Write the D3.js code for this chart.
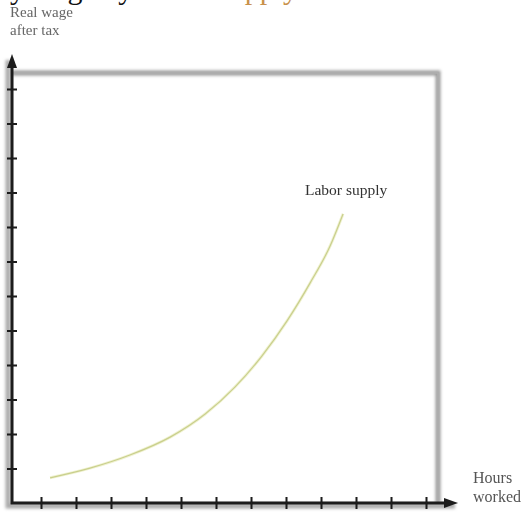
<!DOCTYPE html>
<html>
<head>
<meta charset="utf-8">
<script src="https://cdn.jsdelivr.net/npm/d3@7"></script>
<style>
  body { margin: 0; background: #fff; overflow: hidden; }
  svg { display: block; }
  text { font-family: "Liberation Serif", "DejaVu Serif", serif; }
</style>
</head>
<body>
<div id="container"></div>
<script>
// data
var hourTicks = [1,2,3,4,5,6,7,8,9,10,11,12]
var wageTicks = [1,2,3,4,5,6,7,8,9,10,11,12]
var supplyHours = [1.26, 2.40, 3.54, 4.69, 5.69, 6.54, 7.31, 8.03, 8.69, 9.26, 9.63]
var supplyWage  = [0.73, 1.01, 1.39, 1.91, 2.58, 3.36, 4.26, 5.28, 6.38, 7.45, 8.38]
var curveLabel = "Labor supply"
var yLabel = ["Real wage", "after tax"]
var xLabel = ["Hours", "worked"]
var caption = ["Hourly wage by", "Supply"]

var width = 524, height = 513

var svg = d3.select("#container").append("svg")
    .attr("width", width)
    .attr("height", height)

var defs = svg.append("defs")
defs.append("filter").attr("id", "blur").attr("x", "-50%").attr("y", "-50%").attr("width", "200%").attr("height", "200%")
  .append("feGaussianBlur").attr("stdDeviation", 1.6)
defs.append("filter").attr("id", "soft").attr("x", "-50%").attr("y", "-50%").attr("width", "200%").attr("height", "200%")
  .append("feGaussianBlur").attr("stdDeviation", 0.6)
defs.append("filter").attr("id", "txt").attr("x", "-10%").attr("y", "-10%").attr("width", "120%").attr("height", "120%")
  .append("feGaussianBlur").attr("stdDeviation", 0.35)

// scales
var x = d3.scaleLinear().domain([0, 12]).range([6, 426])
var y = d3.scaleLinear().domain([0, 12]).range([503, 89])

var x0 = 12, y0 = 503

// caption cut off at the top edge
svg.append("text").attr("x", -60).attr("y", -1)
  .style("font-size", "30px").attr("fill", "#111").text(caption[0])
svg.append("text").attr("x", 213).attr("y", -1)
  .style("font-size", "30px").attr("fill", "#c8914a").text(caption[1])

// grey frame (top and right) with shadow
var frame = svg.append("g")
frame.append("path")
  .attr("d", "M" + x0 + ",73 L438,73 L438," + y0)
  .attr("fill", "none").attr("stroke", "#9a9a9a").attr("stroke-width", 5)
  .attr("filter", "url(#blur)")
frame.append("path")
  .attr("d", "M" + x0 + ",73 L438,73 L438," + y0)
  .attr("fill", "none").attr("stroke", "#b0b0b0").attr("stroke-width", 1.5)

// axis shadow
svg.append("path")
  .attr("d", "M" + (x0 - 4) + ",60 L" + (x0 - 4) + "," + (y0 + 3) + " L455," + (y0 + 3))
  .attr("fill", "none").attr("stroke", "#aaa").attr("stroke-width", 5)
  .attr("filter", "url(#blur)")

// axes lines with arrows
var axes = svg.append("g").attr("filter", "url(#soft)")
axes.append("path")
  .attr("d", "M" + x0 + ",62 L" + x0 + "," + y0 + " L450," + y0)
  .attr("fill", "none").attr("stroke", "#1c1c1c").attr("stroke-width", 3)
axes.append("path")
  .attr("d", "M" + x0 + ",54 L" + (x0 - 5) + ",68 L" + (x0 + 5) + ",68 Z")
  .attr("fill", "#1c1c1c")
axes.append("path")
  .attr("d", "M458," + y0 + " L444," + (y0 - 5) + " L444," + (y0 + 5) + " Z")
  .attr("fill", "#1c1c1c")

// ticks
var yAxis = svg.append("g")
  .attr("transform", "translate(" + x0 + ",0)")
  .attr("filter", "url(#soft)")
  .call(d3.axisLeft(y).tickValues(wageTicks).tickSize(5).tickFormat(""))
yAxis.select(".domain").remove()
yAxis.selectAll(".tick line").attr("x1", 5).attr("x2", -5)
  .attr("stroke", "#1c1c1c").attr("stroke-width", 2)

var xAxis = svg.append("g")
  .attr("transform", "translate(0," + y0 + ")")
  .attr("filter", "url(#soft)")
  .call(d3.axisBottom(x).tickValues(hourTicks).tickSize(5).tickFormat(""))
xAxis.select(".domain").remove()
xAxis.selectAll(".tick line").attr("y1", -6).attr("y2", 6)
  .attr("stroke", "#1c1c1c").attr("stroke-width", 2)

// supply curve
var pts = supplyHours.map(function(h, i){ return [h, supplyWage[i]] })
var line = d3.line()
  .x(function(d){ return x(d[0]) })
  .y(function(d){ return y(d[1]) })
  .curve(d3.curveMonotoneX)

svg.append("path").datum(pts)
  .attr("d", line)
  .attr("fill", "none").attr("stroke", "#f0f2d2").attr("stroke-width", 3)
svg.append("path").datum(pts)
  .attr("d", line)
  .attr("fill", "none").attr("stroke", "#c9cf8c").attr("stroke-width", 1.2)

svg.append("text")
  .attr("x", 305).attr("y", 195)
  .attr("filter", "url(#txt)")
  .style("font-size", "15.5px").attr("fill", "#333")
  .text(curveLabel)

// axis titles
svg.selectAll(".ylab").data(yLabel).enter().append("text")
  .attr("class", "ylab")
  .attr("x", 10).attr("y", function(d, i){ return 17 + i * 18 })
  .attr("filter", "url(#txt)")
  .style("font-size", "15px").attr("fill", "#666")
  .text(function(d){ return d })

svg.selectAll(".xlab").data(xLabel).enter().append("text")
  .attr("class", "xlab")
  .attr("x", 473).attr("y", function(d, i){ return 483 + i * 19 })
  .attr("filter", "url(#txt)")
  .style("font-size", "16px").attr("fill", "#555")
  .text(function(d){ return d })
</script>
</body>
</html>
